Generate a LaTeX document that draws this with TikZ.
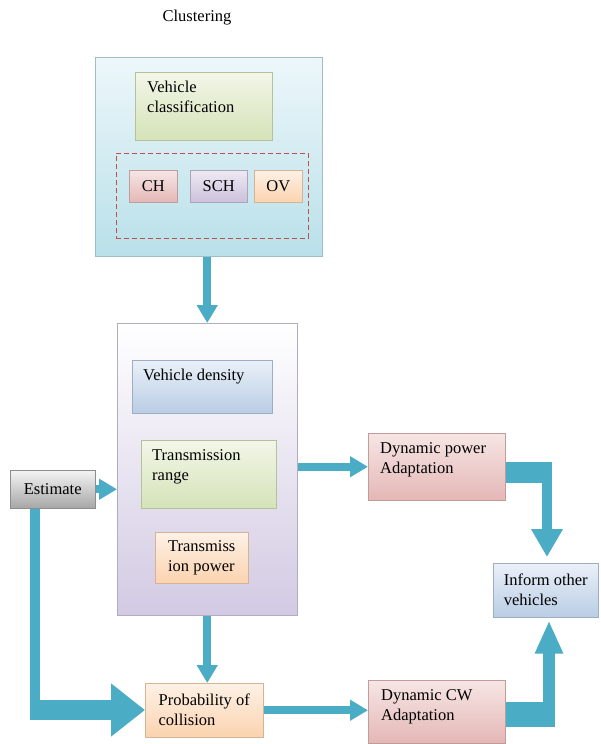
\documentclass[tikz,border=0pt]{standalone}
\usepackage{fontspec}
\setmainfont{Liberation Serif}
\usetikzlibrary{arrows.meta,shadows,calc}
\definecolor{flowc}{HTML}{4BACC6}
\definecolor{cluT}{HTML}{EDF7FA}
\definecolor{cluB}{HTML}{B9E0E9}
\definecolor{grnT}{HTML}{F2F6E8}
\definecolor{grnB}{HTML}{D5E3B8}
\definecolor{redT}{HTML}{F6E6E5}
\definecolor{redB}{HTML}{E4B7B6}
\definecolor{purT}{HTML}{EEEAF4}
\definecolor{purB}{HTML}{CBC0DB}
\definecolor{orT}{HTML}{FDF1E6}
\definecolor{orB}{HTML}{FBD3AF}
\definecolor{bluT}{HTML}{EAF0F8}
\definecolor{bluB}{HTML}{B9CDE5}
\definecolor{gryT}{HTML}{F4F4F4}
\definecolor{gryB}{HTML}{A6A6A6}
\definecolor{midB}{HTML}{D2CAE3}
\definecolor{dashc}{HTML}{C0504D}
\newcommand\bxfont{\fontsize{16.5}{20}\selectfont}
\tikzset{
  box/.style 2 args={rectangle, anchor=north west, inner sep=0pt,
    top color=#1, bottom color=#2, draw=#2!85!black, line width=.5pt,
    drop shadow={shadow xshift=1.2pt,shadow yshift=-1.2pt,opacity=.5,fill=black!70},
    font=\bxfont, align=left},
  txt/.style={font=\bxfont, align=left, inner sep=0pt},
  flow/.style={draw=flowc, line width=8pt, -{Triangle[width=20pt,length=18pt]}},
  elbow/.style={draw=flowc}
}
\begin{document}
\begin{tikzpicture}[x=1pt,y=-1pt]
\useasboundingbox (0,0) rectangle (600,744);
\node[txt] (ttl) at (197,18) {Clustering};
\node[box={cluT}{cluB}, minimum width=227, minimum height=199] (clu) at (95,57) {};
\node[box={grnT}{grnB}, minimum width=137, minimum height=68] (vc) at (135,72) {};
\node[txt, anchor=north west] (vct) at ($(vc.north west)+(12,9)$) {Vehicle\\classification};
\node[draw=dashc, dash pattern=on 5pt off 3pt, line width=.8pt, anchor=north west,
  minimum width=192, minimum height=85] (grp) at (116,153) {};
\node[box={redT}{redB}, minimum width=48, minimum height=32] (ch) at (129,170) {CH};
\node[box={purT}{purB}, minimum width=57, minimum height=32] (sch) at (190,170) {SCH};
\node[box={orT}{orB}, minimum width=48, minimum height=32] (ov) at (254,170) {OV};

\node[box={white}{midB}, minimum width=180, minimum height=292] (mid) at (117,323) {};
\node[box={bluT}{bluB}, minimum width=140, minimum height=53] (vd) at (132,360) {};
\node[txt, anchor=north west] (vdt) at ($(vd.north west)+(11,9)$) {Vehicle density};
\node[box={grnT}{grnB}, minimum width=135, minimum height=68] (tr) at (141,440) {};
\node[txt, anchor=north west] (trt) at ($(tr.north west)+(11,9)$) {Transmission\\range};
\node[box={orT}{orB}, minimum width=93, minimum height=51] (tp) at (155,532) {Transmiss\\ion power};

\node[box={gryT}{gryB}, minimum width=85, minimum height=38] (est) at (10,470) {Estimate};

\node[box={redT}{redB}, minimum width=137, minimum height=67] (dpa) at (368,433) {};
\node[txt, anchor=north west] (dpat) at ($(dpa.north west)+(12,9)$) {Dynamic power\\Adaptation};
\node[box={bluT}{bluB}, minimum width=105, minimum height=54] (inf) at (493,563) {Inform other\\vehicles};
\node[box={orT}{orB}, minimum width=118, minimum height=54] (prob) at (145,683) {Probability of\\collision};
\node[box={redT}{redB}, minimum width=137, minimum height=63] (dcw) at (368,680) {};
\node[txt, anchor=north west] (dcwt) at ($(dcw.north west)+(13,9)$) {Dynamic CW\\Adaptation};

\draw[flow] (mid.north |- clu.south) -- (mid.north);
\draw[flow] (est.east) -- (est.east -| mid.west);
\draw[flow] (dpa.west -| mid.east) -- (dpa.west);
\draw[flow] (mid.south) -- (mid.south |- prob.north);
\draw[flow] (prob.east) -- (prob.east -| dcw.west);

\coordinate (b1) at (35,710);
\draw[elbow, line width=10pt] (est.south -| b1) -- ([yshift=-10pt]b1);
\draw[elbow, line width=20pt, -{Triangle[width=51pt,length=34pt]}] ([xshift=-5pt]b1) -- (prob.west |- b1);

\coordinate (b2) at (547,472);
\draw[elbow, line width=21pt] (dpa.east |- b2) -- ([xshift=5pt]b2);
\draw[elbow, line width=10pt, -{Triangle[width=30pt,length=28pt]}] ([yshift=10pt]b2) -- ([yshift=6pt]b2 |- inf.north);

\coordinate (b3) at (549,714);
\draw[elbow, line width=25pt] (dcw.east |- b3) -- ([xshift=6pt]b3);
\draw[elbow, line width=12pt, -{Triangle[width=26pt,length=33pt]}] ([yshift=-12pt]b3) -- ([yshift=-3pt]b3 |- inf.south);
\end{tikzpicture}
\end{document}
